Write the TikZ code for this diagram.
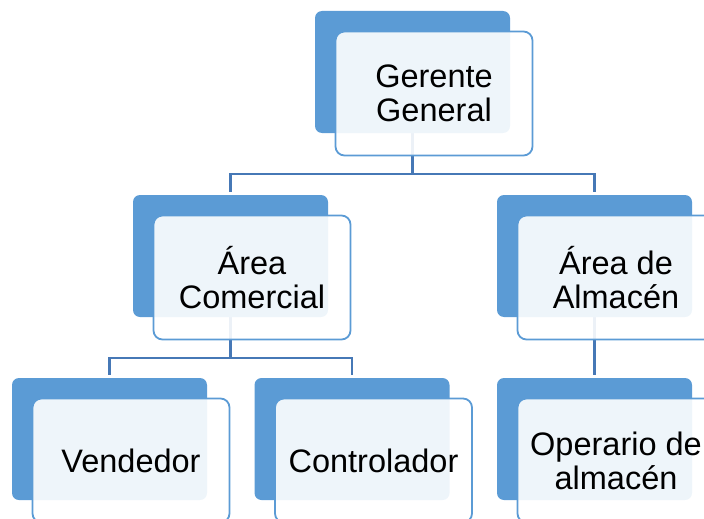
\documentclass[tikz,border=0pt]{standalone}
\usepackage{fontspec}
\setmainfont{Liberation Sans}
\usetikzlibrary{backgrounds}
\definecolor{boxblue}{RGB}{91,155,213}
\definecolor{linkblue}{RGB}{70,120,182}
\tikzset{
  backbox/.style={rectangle, rounded corners=7pt, fill=boxblue,
    minimum width=195pt, minimum height=122pt, inner sep=0pt},
  frontbox/.style={rectangle, rounded corners=9pt, draw=boxblue, line width=1.8pt,
    fill=white, fill opacity=0.9, text opacity=1, text=black,
    minimum width=197pt, minimum height=124pt, inner sep=0pt, align=center,
    font=\fontsize{32.5}{34}\selectfont},
  link/.style={draw=linkblue, line width=2.4pt}
}
\begin{document}
\begin{tikzpicture}[x=1pt, y=-1pt]
  \useasboundingbox (0,0) rectangle (704,519);
  \clip (0,0) rectangle (704,519);

  % top level
  \node[backbox] (gg-b) at (412.5,72) {};
  \node[frontbox] (gg) at (434,93.5) {Gerente\\General};

  % second level
  \node[backbox] (ac-b) at (230.5,256) {};
  \node[frontbox] (ac) at (252,277.5) {Área\\Comercial};
  \node[backbox] (aa-b) at (594.5,256) {};
  \node[frontbox] (aa) at (616,277.5) {Área de\\Almacén};

  % third level
  \node[backbox] (ven-b) at (109.5,439) {};
  \node[frontbox] (ven) at (131,460.5) {Vendedor};
  \node[backbox] (con-b) at (352,439) {};
  \node[frontbox] (con) at (373.5,460.5) {Controlador};
  \node[backbox] (op-b) at (594.5,439) {};
  \node[frontbox] (op) at (616,460.5) {Operario de\\almacén};

  % connectors, kept beneath the boxes
  \begin{pgfonlayer}{background}
    \draw[link] (gg-b.center) -- ++(0,102) coordinate (j1)
      -| ([yshift=3pt]ac-b.north);
    \draw[link] (j1) -| ([yshift=3pt]aa-b.north);
    \draw[link] (ac-b.center) -- ++(0,102) coordinate (j2)
      -| ([yshift=3pt]ven-b.north);
    \draw[link] (j2) -| ([yshift=3pt]con-b.north);
    \draw[link] (aa-b.center) -- ([yshift=3pt]op-b.north);
  \end{pgfonlayer}
\end{tikzpicture}
\end{document}
